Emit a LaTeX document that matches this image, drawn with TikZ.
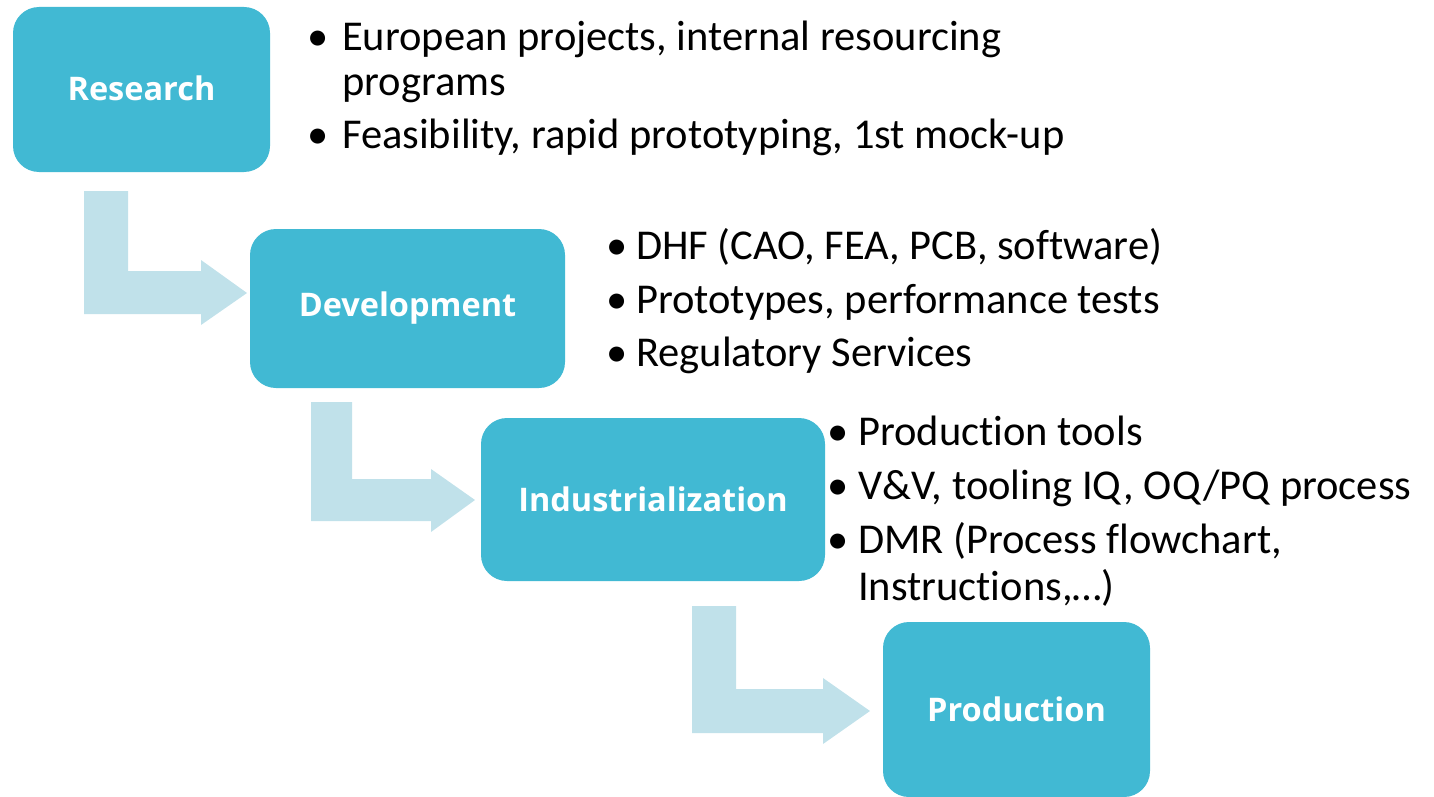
\documentclass[tikz,border=0pt]{standalone}
\usepackage{fontspec}
\setmainfont{Carlito}[Ligatures=NoCommon]
\newfontfamily\boxfont{Open Sans}
\definecolor{boxblue}{HTML}{41B9D3}
\definecolor{arrowblue}{HTML}{C0E1EA}
\begin{document}
\begin{tikzpicture}[x=1pt,y=-1pt,
  stage/.style={fill=boxblue,rounded corners=26pt,inner sep=0pt},
  stagelabel/.style={font=\boxfont\bfseries\fontsize{32.5}{38}\selectfont,text=white,inner sep=0pt},
  bigarrow/.style={fill=arrowblue,draw=none},
  itemtext/.style={anchor=base west,inner sep=0pt,font=\fontsize{42.5}{50}\selectfont},
  bul/.style={anchor=base,inner sep=0pt,font=\fontsize{42.5}{50}\selectfont}]
\useasboundingbox (0,0) rectangle (1434,797);
% stage boxes
\path[stage] (13,7) rectangle (270,172);
\node[stagelabel] (research) at (141.5,88.5) {Research};
\path[stage] (250,229) rectangle (565,388);
\node[stagelabel] (development) at (407.5,308.5) {Development};
\path[stage] (481,418) rectangle (825,581);
\node[stagelabel] (industrialization) at (653,499.5) {Industrialization};
\path[stage] (883,622) rectangle (1150,797);
\node[stagelabel] (production) at (1016.5,709.5) {Production};
% bent arrows
\path[bigarrow] (84,191) -- (128,191) -- (128,271) -- (201,271) -- (201,260) -- (247,293) -- (201,325) -- (201,314) -- (84,314) -- cycle;
\path[bigarrow] (311,402) -- (352,402) -- (352,479) -- (431,479) -- (431,469) -- (475,500) -- (431,532) -- (431,521) -- (311,521) -- cycle;
\path[bigarrow] (692,606) -- (736,606) -- (736,689) -- (823,689) -- (823,678) -- (870,711) -- (823,744) -- (823,733) -- (692,733) -- cycle;
% research bullets
\node[bul] (rb1) at (318,51) {•};
\node[itemtext] (r1) at (342,51) {European projects, internal resourcing};
\node[itemtext] (r1b) at (342,96) {programs};
\node[bul] (rb2) at (318,149) {•};
\node[itemtext] (r2) at (342,149) {Feasibility, rapid prototyping, 1st mock-up};
% development bullets
\node[bul] (db1) at (617,259) {•};
\node[itemtext] (d1) at (636,259) {DHF (CAO, FEA, PCB, software)};
\node[bul] (db2) at (617,313) {•};
\node[itemtext] (d2) at (636,313) {Prototypes, performance tests};
\node[bul] (db3) at (617,366) {•};
\node[itemtext] (d3) at (636,366) {Regulatory Services};
% industrialization bullets
\node[bul] (ib1) at (838,445) {•};
\node[itemtext] (i1) at (858,445) {Production tools};
\node[bul] (ib2) at (838,499) {•};
\node[itemtext] (i2) at (858,499) {V\&V, tooling IQ, OQ/PQ process};
\node[bul] (ib3) at (838,553) {•};
\node[itemtext] (i3) at (858,553) {DMR (Process flowchart,};
\node[itemtext] (i3b) at (858,600) {Instructions,…)};
\end{tikzpicture}
\end{document}
